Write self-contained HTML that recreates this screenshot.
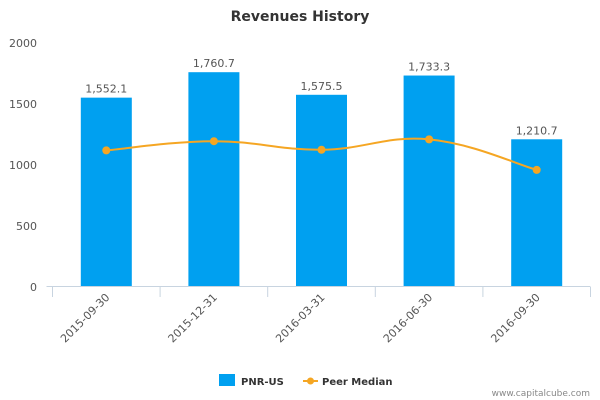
<!DOCTYPE html>
<html><head><meta charset="utf-8"><style>
body{margin:0;background:#fff;}
svg{display:block;font-family:"DejaVu Sans","Liberation Sans",sans-serif;}
</style></head><body>
<svg id="chart" width="600" height="400" xmlns="http://www.w3.org/2000/svg">
<text x="300" y="21" text-anchor="middle" font-size="14" font-weight="bold" fill="#333">Revenues History</text>
<g id="yaxis"></g>
<g id="bars"></g>
<g id="xaxis"></g>
<g id="line"></g>
<g>
<rect x="219" y="374" width="16" height="12" fill="#00a0f0"/>
<text x="241" y="385" font-size="10" font-weight="bold" fill="#333">PNR-US</text>
<line x1="303" y1="381" x2="318" y2="381" stroke="#f5a623" stroke-width="2"/>
<circle cx="310.5" cy="381" r="3.5" fill="#f5a623"/>
<text x="322" y="385" font-size="10" font-weight="bold" fill="#333">Peer Median</text>
</g>
<text x="590" y="396" text-anchor="end" font-size="9" fill="#888">www.capitalcube.com</text>
</svg>
<script>
const categories=["2015-09-30","2015-12-31","2016-03-31","2016-06-30","2016-09-30"];
const revenues=[1552.1,1760.7,1575.5,1733.3,1210.7];
const revenueLabels=["1,552.1","1,760.7","1,575.5","1,733.3","1,210.7"];
const peerMedian=[1120,1195,1125,1210,960];
const yTicks=[0,500,1000,1500,2000];
const NS="http://www.w3.org/2000/svg";
const x0=52.5,x1=590.5,yb=287,yt=43,ymax=2000;
const bw=(x1-x0)/categories.length;
function xs(i){return x0+bw*(i+0.5);}
function ys(v){return yb-(v/ymax)*(yb-yt);}
function mk(t,a,p){const e=document.createElementNS(NS,t);for(const k in a)e.setAttribute(k,a[k]);p.appendChild(e);return e;}
const ya=document.getElementById('yaxis');
yTicks.forEach(v=>{const t=mk('text',{x:37,y:ys(v)+4,'text-anchor':'end','font-size':11,fill:'#555'},ya);t.textContent=v;

});
const bg=document.getElementById('bars');
revenues.forEach((v,i)=>{const r=mk('rect',{x:xs(i)-25.5,y:ys(v),width:51,height:yb-ys(v),fill:'#00a0f0'},bg);


const t=mk('text',{x:xs(i),y:ys(v)-5,'text-anchor':'middle','font-size':11,fill:'#555'},bg);t.textContent=revenueLabels[i];

});
const xa=document.getElementById('xaxis');
const al=mk('line',{x1:x0-6,y1:yb-0.5,x2:x1,y2:yb-0.5,stroke:'#c8d4e0'},xa);


for(let i=0;i<=categories.length;i++){const tk=mk('line',{x1:x0+bw*i,y1:yb,x2:x0+bw*i,y2:yb+10,stroke:'#c8d4e0'},xa);

}
categories.forEach((c,i)=>{const x=xs(i)+4,y=298;const t=mk('text',{x:x,y:y,'text-anchor':'end','font-size':11,fill:'#555',transform:`rotate(-45 ${x} ${y})`},xa);t.textContent=c;

});
const lg=document.getElementById('line');
const pts=peerMedian.map((v,i)=>[xs(i),ys(v)]);
let d=`M${pts[0][0]},${pts[0][1]}`;
for(let i=0;i<pts.length-1;i++){const p0=pts[Math.max(0,i-1)],p1=pts[i],p2=pts[i+1],p3=pts[Math.min(pts.length-1,i+2)];const k=0.2;
d+=` C${p1[0]+(p2[0]-p0[0])*k},${p1[1]+(p2[1]-p0[1])*k} ${p2[0]-(p3[0]-p1[0])*k},${p2[1]-(p3[1]-p1[1])*k} ${p2[0]},${p2[1]}`;}
const pl=mk('path',{d:d,fill:'none',stroke:'#f5a623','stroke-width':2},lg);


pts.forEach((p,i)=>{const c=mk('circle',{cx:p[0],cy:p[1],r:4,fill:'#f5a623'},lg);

});
</script>
</body></html>
